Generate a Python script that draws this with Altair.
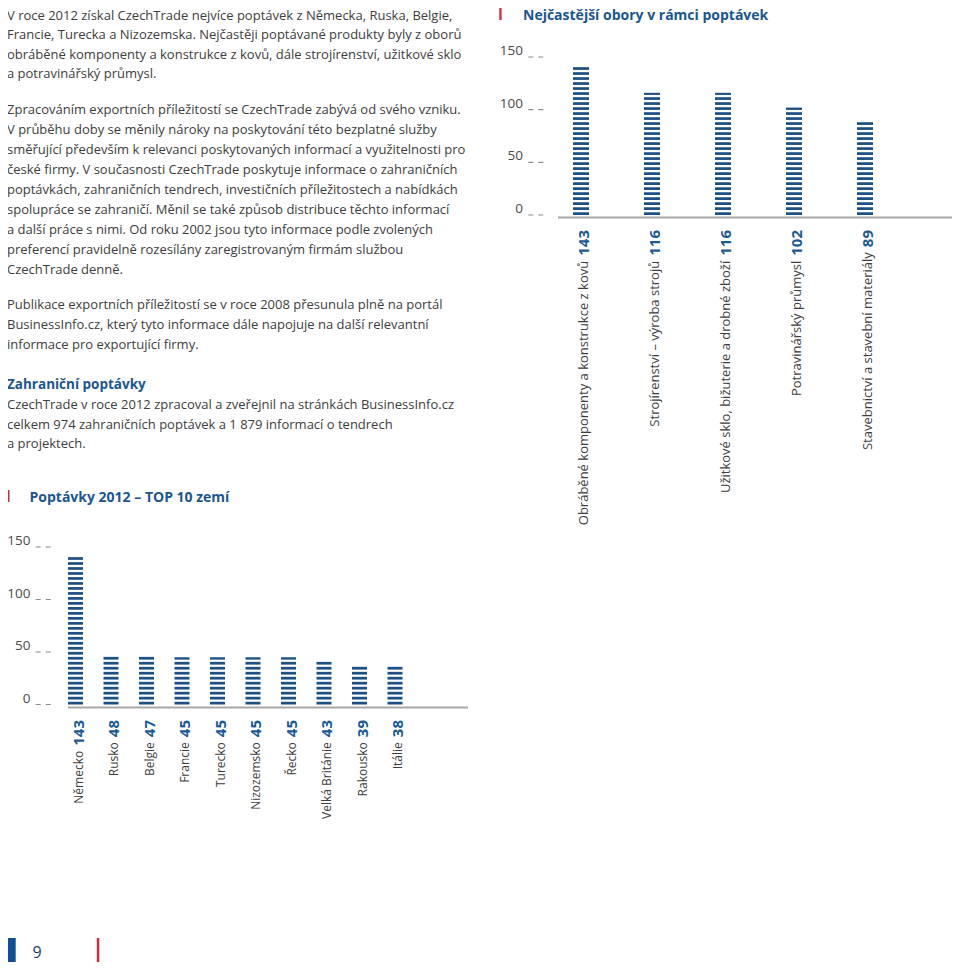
import altair as alt
import pandas as pd

FONT = "Open Sans"
M = 8                      # page margin
W, H = 944, 954            # canvas (plot area == whole chart, padding 0)


def px(v):
    """page coordinate -> plot coordinate"""
    return v - M


# ---------------- data ----------------
TOP_CATS = [
    "Obráběné komponenty a konstrukce z kovů",
    "Strojírenství – výroba strojů",
    "Užitkové sklo, bižuterie a drobné zboží",
    "Potravinářský průmysl",
    "Stavebnictví a stavební materiály",
]
TOP_VALUES = [143, 116, 116, 102, 89]

COUNTRIES = ["Německo", "Rusko", "Belgie", "Francie", "Turecko",
             "Nizozemsko", "Řecko", "Velká Británie", "Rakousko", "Itálie"]
COUNTRY_VALUES = [143, 48, 47, 45, 45, 45, 45, 43, 39, 38]

Y_TICKS = [0, 50, 100, 150]

TITLE_TOP = "Nejčastější obory v rámci poptávek"
TITLE_BOTTOM = "Poptávky 2012 – TOP 10 zemí"
PAGE_NUMBER = "9"

PARA1 = [
    "V roce 2012 získal CzechTrade nejvíce poptávek z Německa, Ruska, Belgie,",
    "Francie, Turecka a Nizozemska. Nejčastěji poptávané produkty byly z oborů",
    "obráběné komponenty a konstrukce z kovů, dále strojírenství, užitkové sklo",
    "a potravinářský průmysl.",
]
PARA2 = [
    "Zpracováním exportních příležitostí se CzechTrade zabývá od svého vzniku.",
    "V průběhu doby se měnily nároky na poskytování této bezplatné služby",
    "směřující především k relevanci poskytovaných informací a využitelnosti pro",
    "české firmy. V současnosti CzechTrade poskytuje informace o zahraničních",
    "poptávkách, zahraničních tendrech, investičních příležitostech a nabídkách",
    "spolupráce se zahraničí. Měnil se také způsob distribuce těchto informací",
    "a další práce s nimi. Od roku 2002 jsou tyto informace podle zvolených",
    "preferencí pravidelně rozesílány zaregistrovaným firmám službou",
    "CzechTrade denně.",
]
PARA3 = [
    "Publikace exportních příležitostí se v roce 2008 přesunula plně na portál",
    "BusinessInfo.cz, který tyto informace dále napojuje na další relevantní",
    "informace pro exportující firmy.",
]
HEAD4 = "Zahraniční poptávky"
PARA4 = [
    "CzechTrade v roce 2012 zpracoval a zveřejnil na stránkách BusinessInfo.cz",
    "celkem 974 zahraničních poptávek a 1 879 informací o tendrech",
    "a projektech.",
]

# ---------------- styles ----------------
BAR = "#1d5084"
NUM = "#1c5a96"
HEAD = "#1b5690"
RED = "#d7263d"
TXT = "#3d3d3d"
BASE = "#a8a8a8"
TICK = "#8a8a8a"
PAGEBLUE = "#0f4f95"

PERIOD = 4.75      # stripe period (data units)
THICK = 2.6        # stripe thickness (data units)
DIGIT_W = 8.6      # approx width of one bold digit at 15px
BODY_FS = 13

one = alt.Data(values=[{"k": 0}])


def text_block(lines, x, baseline_y, size=BODY_FS, weight="normal", color=TXT, lh=20):
    top = baseline_y - round(0.79 * size)
    return alt.Chart(one).mark_text(
        align="left", baseline="top", font=FONT, fontSize=size,
        fontWeight=weight, color=color, lineHeight=lh,
    ).encode(x=alt.value(px(x)), y=alt.value(px(top)), text=alt.value(lines))


def rect(x0, x1, y0, y1, color):
    return alt.Chart(one).mark_rect(color=color).encode(
        x=alt.value(max(px(x0), 0)), x2=alt.value(px(x1)),
        y=alt.value(max(px(y0), 0)), y2=alt.value(min(px(y1), H)),
    )


def hline(x0, x1, y, color, width):
    return alt.Chart(one).mark_rule(color=color, strokeWidth=width).encode(
        x=alt.value(px(x0)), x2=alt.value(min(px(x1), W)), y=alt.value(px(y)),
    )


def panel(cats, vals, x0, x1, y0, y150, bar_w, lab_right, dash0, dash1,
          base0, base1, base_y, num_top, cat_fs, label_dy):
    df = pd.DataFrame({"cat": cats, "v": vals})
    tdf = pd.DataFrame({"t": Y_TICKS})
    xs = alt.Scale(type="band", domain=cats, range=[px(x0), px(x1)],
                   paddingInner=0, paddingOuter=0)
    ys = alt.Scale(type="linear", domain=[0, 150], range=[px(y0), px(y150)],
                   nice=False)
    X = alt.X("cat:N", scale=xs, axis=None, sort=None)

    bars = (
        alt.Chart(df)
        .transform_calculate(stripe=f"sequence(0, datum.v - {THICK / 2}, {PERIOD})")
        .transform_flatten(["stripe"], as_=["s"])
        .transform_calculate(s2=f"min(datum.s + {THICK}, datum.v)")
        .mark_bar(size=bar_w, color=BAR)
        .encode(x=X, y=alt.Y("s:Q", scale=ys, axis=None), y2="s2:Q")
    )
    dashes = alt.Chart(tdf).mark_rule(
        color=TICK, strokeDash=[5, 5], strokeWidth=1.2
    ).encode(
        y=alt.Y("t:Q", scale=ys, axis=None),
        x=alt.value(px(dash0)), x2=alt.value(px(dash1)),
    )
    tick_labels = alt.Chart(tdf).mark_text(
        align="right", baseline="alphabetic", dy=-2, font=FONT,
        fontSize=13.5, color="#4a4a4a",
    ).encode(
        y=alt.Y("t:Q", scale=ys, axis=None), x=alt.value(px(lab_right)),
        text="t:Q",
    )
    baseline = hline(base0, base1, base_y, BASE, 2)
    numbers = alt.Chart(df).mark_text(
        angle=270, align="right", baseline="middle", dy=label_dy, font=FONT,
        fontSize=15, fontWeight="bold", color=NUM,
    ).encode(x=X, y=alt.value(px(num_top)), text="v:Q")
    labels = (
        alt.Chart(df)
        .transform_calculate(
            ly=f"{px(num_top)} + length(toString(datum.v)) * {DIGIT_W} + 5")
        .mark_text(angle=270, align="right", baseline="middle", dy=label_dy,
                   font=FONT, fontSize=cat_fs, color=TXT)
        .encode(x=X, y=alt.Y("ly:Q", scale=None, axis=None), text="cat:N")
    )
    return [bars, dashes, tick_labels, baseline, numbers, labels]


layers = []
# text column
layers.append(text_block(PARA1, 7, 19.5, lh=19.5))
layers.append(text_block(PARA2, 7, 114))
layers.append(text_block(PARA3, 7, 309))
layers.append(text_block([HEAD4], 7, 389, size=13.5, weight="bold", color=HEAD))
layers.append(text_block(PARA4, 7, 409, lh=19.5))

# top chart
layers.append(rect(499.3, 501.6, 8, 20, RED))
layers.append(text_block([TITLE_TOP], 523, 19.5, size=14, weight="bold", color=HEAD))
layers += panel(TOP_CATS, TOP_VALUES, 545.5, 900.5, 215, 57, 16,
                523, 528.3, 543.3, 558, 958, 217.5, 230, 13, 3)

# bottom chart
layers.append(rect(7, 9.5, 490, 502, RED))
layers.append(text_block([TITLE_BOTTOM], 29.5, 501.5, size=14, weight="bold", color=HEAD))
layers += panel(COUNTRIES, COUNTRY_VALUES, 57.75, 412.75, 704.5, 547, 15,
                30.5, 35.7, 50.7, 68, 468, 707.5, 720, 12, 3)

# page footer
layers.append(rect(6, 15.7, 938, 968, PAGEBLUE))
layers.append(text_block([PAGE_NUMBER], 32.5, 958, size=16, color="#1b3f6e"))
layers.append(rect(96.8, 99.3, 938, 968, RED))

chart = (
    alt.layer(*layers)
    .resolve_scale(x="independent", y="independent")
    .properties(width=W, height=H, padding=0,
                autosize=alt.AutoSizeParams(type="none"), background="white")
    .configure_view(stroke=None)
)

chart.save("out.html", embed_options={"renderer": "svg", "actions": False})
